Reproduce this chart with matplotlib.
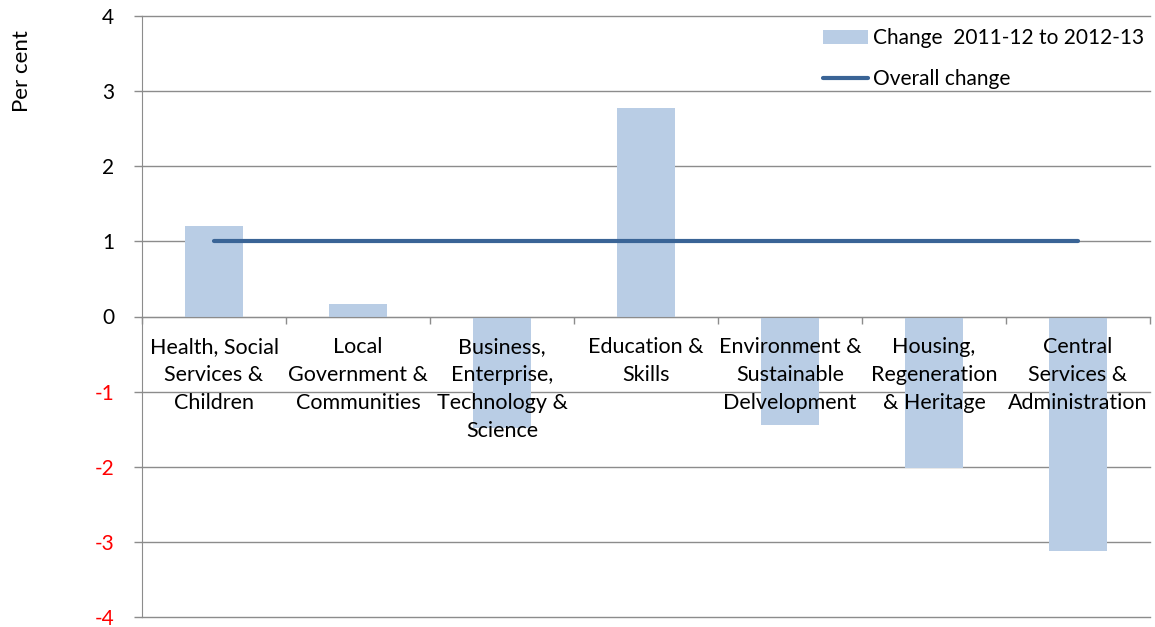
import matplotlib
matplotlib.use("Agg")
import matplotlib.pyplot as plt
import numpy as np

categories = ["Health, Social\nServices &\nChildren", "Local\nGovernment &\nCommunities",
              "Business,\nEnterprise,\nTechnology &\nScience", "Education &\nSkills",
              "Environment &\nSustainable\nDelvelopment", "Housing,\nRegeneration\n& Heritage",
              "Central\nServices &\nAdministration"]
change = [1.20, 0.17, -1.49, 2.77, -1.45, -2.02, -3.12]
overall = [1.0] * 7
yticks = [-4, -3, -2, -1, 0, 1, 2, 3, 4]

plt.rcParams['font.family'] = ['Lato', 'DejaVu Sans']
fig = plt.figure(figsize=(11.55, 6.27), dpi=100)
ax = fig.add_axes([142/1155, 10/627, 1008/1155, 601/627])

x = np.arange(len(categories))
bars = ax.bar(x, change, width=0.4, color='#B9CDE5', label='Change  2011-12 to 2012-13', zorder=2)
line, = ax.plot(x, overall, color='#3A6496', lw=3, label='Overall change', zorder=3, solid_capstyle='round')

ax.set_xlim(-0.5, len(categories) - 0.5)
ax.set_ylim(-4, 4)
ax.set_yticks(yticks)
ax.set_yticklabels([str(v) for v in yticks], fontsize=15)
for lbl, v in zip(ax.get_yticklabels(), yticks):
    lbl.set_color('red' if v < 0 else 'black')
for v in yticks:
    ax.axhline(v, color='#8C8C8C', lw=1, zorder=0, clip_on=False)
ax.tick_params(axis='y', length=6, width=1, color='#8C8C8C', pad=14)

for s in ['top', 'right']:
    ax.spines[s].set_visible(False)
ax.spines['left'].set_color('#8C8C8C')
ax.spines['bottom'].set_position(('data', 0))
ax.spines['bottom'].set_color('#8C8C8C')

ax.set_xticks(np.arange(-0.5, len(categories), 1.0), minor=False)
ax.set_xticklabels([])
ax.tick_params(axis='x', which='major', length=5, width=1, color='#8C8C8C', direction='out')
for xi, c in zip(x, categories):
    ax.text(xi, -0.27, c, ha='center', va='top', fontsize=15.5, linespacing=1.5, zorder=4)

fig.text(22/1155, 1 - 71/627, 'Per cent', rotation=90, ha='center', va='center', fontsize=16)

leg = ax.legend([bars, line], ['Change  2011-12 to 2012-13', 'Overall change'],
                loc='upper right', bbox_to_anchor=(1152/1155, 1 - 20/627), bbox_transform=fig.transFigure,
                frameon=False, fontsize=15, handlelength=2.2, handletextpad=0.2, labelspacing=1.0,
                borderaxespad=0)

fig.savefig('out.png', dpi=100)
